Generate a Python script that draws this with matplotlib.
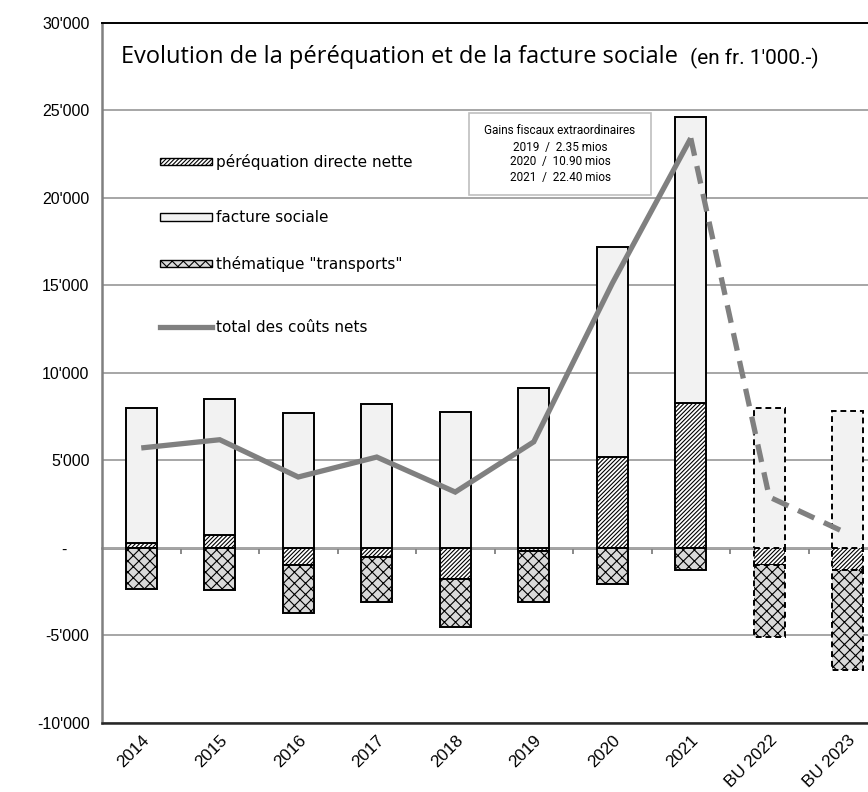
import matplotlib
matplotlib.use('Agg')
import matplotlib.pyplot as plt
from matplotlib.patches import Patch, Rectangle
from matplotlib.lines import Line2D
import numpy as np

# ---------------- data ----------------
categories = ['2014', '2015', '2016', '2017', '2018', '2019', '2020', '2021', 'BU 2022', 'BU 2023']
perequation = [290, 700, -970, -510, -1770, -200, 5160, 8270, -1010, -1260]
facture_sociale = [7710, 7800, 7700, 8200, 7770, 9100, 12040, 16350, 7960, 7790]
transports = [-2360, -2420, -2740, -2590, -2780, -2900, -2060, -1300, -4110, -5750]
total_couts = [5700, 6170, 4040, 5180, 3180, 6050, 15100, 23400, 2900, 800]
is_budget = [False, False, False, False, False, False, False, False, True, True]
n_actual = 8

ytick_values = [-10000, -5000, 0, 5000, 10000, 15000, 20000, 25000, 30000]
ytick_labels = ["-10'000", "-5'000", "-     ", "5'000", "10'000", "15'000", "20'000", "25'000", "30'000"]

legend_labels = ['péréquation directe nette', 'facture sociale', 'thématique "transports"', 'total des coûts nets']
title_main = 'Evolution de la péréquation et de la facture sociale'
title_unit = "(en fr. 1'000.-)"
note_lines = ['Gains fiscaux extraordinaires', '2019  /  2.35 mios', '2020  /  10.90 mios', '2021  /  22.40 mios']

# ---------------- figure ----------------
W, H = 868, 792
DPI = 100
plt.rcParams['hatch.linewidth'] = 0.8
fig = plt.figure(figsize=(W / DPI, H / DPI), dpi=DPI)
fig.patch.set_facecolor('white')

ax_left, ax_top, ax_bottom = 102, 22.7, 722.7
step = 78.5
n = len(categories)
ax = fig.add_axes([ax_left / W, 1 - ax_bottom / H, n * step / W, (ax_bottom - ax_top) / H])

x = np.arange(n)
per = np.array(perequation)
fac = np.array(facture_sociale)
tra = np.array(transports)
fac_bottom = np.maximum(per, 0)
tra_bottom = np.minimum(per, 0)

bw = 0.4
edge_lw = 1.4
hatch_per = '////////'
hatch_tra = 'xxx'
bars_per = ax.bar(x, per, width=bw, bottom=0, color='white', edgecolor='black',
                  hatch=hatch_per, linewidth=edge_lw, zorder=3)
bars_fac = ax.bar(x, fac, width=bw, bottom=fac_bottom, color='#f2f2f2', edgecolor='black',
                  linewidth=edge_lw, zorder=3)
bars_tra = ax.bar(x, tra, width=bw, bottom=tra_bottom, color='#d9d9d9', edgecolor='black',
                  hatch=hatch_tra, linewidth=edge_lw, zorder=3)
for group in (bars_per, bars_fac, bars_tra):
    for patch, b in zip(group, is_budget):
        if b:
            patch.set_linestyle((0, (3, 2)))

tot = np.array(total_couts)
line_color = '#808080'
ax.plot(x[:n_actual], tot[:n_actual], color=line_color, lw=3.8, zorder=5,
        solid_joinstyle='miter', solid_capstyle='butt')
ax.plot(x[n_actual - 1:], tot[n_actual - 1:], color=line_color, lw=3.8, zorder=5,
        dashes=(3.4, 2.0), dash_capstyle='butt')

# axes styling
ax.set_xlim(-0.5, n - 0.5)
ax.set_ylim(-10000, 30000)
ax.set_yticks(ytick_values)
ax.set_yticklabels(ytick_labels, fontsize=11.5, family='Liberation Sans')
ax.tick_params(axis='y', length=0, pad=9)
ax.yaxis.grid(True, color='#a6a6a6', lw=1.4, zorder=0)
ax.set_axisbelow(True)

ax.set_xticks(x)
ax.set_xticklabels(categories, rotation=45, ha='right', rotation_mode='anchor',
                   fontsize=12.3, family='Liberation Sans')
ax.tick_params(axis='x', length=0, pad=7)

ax.spines['right'].set_visible(False)
ax.spines['left'].set_color('#808080')
ax.spines['left'].set_linewidth(1.8)
ax.spines['top'].set_color('black')
ax.spines['top'].set_linewidth(1.4)
ax.spines['bottom'].set_color('#262626')
ax.spines['bottom'].set_linewidth(1.8)

# zero axis with tick marks between categories
zero_pos = (0 - (-10000)) / 40000
sec = ax.secondary_xaxis(zero_pos)
sec.set_xticks(np.arange(n) + 0.5)
sec.set_xticklabels([])
sec.tick_params(axis='x', direction='out', length=4.5, width=1.3, color='#808080')
sec.spines['bottom'].set_color('#808080')
sec.spines['bottom'].set_linewidth(1.8)

# legend, one entry per row
handles = [
    Patch(facecolor='white', edgecolor='black', hatch=hatch_per, linewidth=1.0),
    Patch(facecolor='#f2f2f2', edgecolor='black', linewidth=1.0),
    Patch(facecolor='#d9d9d9', edgecolor='black', hatch=hatch_tra, linewidth=1.0),
    Line2D([0], [0], color=line_color, lw=3.8),
]
legend_rows = [162, 218, 264, 327]
fs_leg = 11
for h, lab, yy in zip(handles, legend_labels, legend_rows):
    fig.legend([h], [lab], loc='center left', bbox_to_anchor=(160 / W, 1 - yy / H),
               bbox_transform=fig.transFigure, frameon=False, borderpad=0, borderaxespad=0,
               handlelength=3.4, handleheight=0.4, handletextpad=0.25,
               prop={'family': 'DejaVu Sans', 'size': fs_leg})

# note box
rect = Rectangle((469 / W, 1 - 195 / H), (651 - 469) / W, (195 - 113) / H,
                 transform=fig.transFigure, facecolor='white', edgecolor='#bfbfbf',
                 linewidth=1.2, zorder=6)
fig.patches.append(rect)
note_y = [131, 147.5, 162, 177]
for txt, yy in zip(note_lines, note_y):
    fig.text(560 / W, 1 - yy / H, txt, ha='center', va='center', fontsize=8.5,
             family='Roboto', zorder=7)

# titles
fig.text(121 / W, 1 - 57 / H, title_main, ha='left', va='center', fontsize=17,
         family='Open Sans')
fig.text(690 / W, 1 - 58 / H, title_unit, ha='left', va='center', fontsize=15,
         family='Roboto')

fig.savefig('out.png', dpi=DPI)
